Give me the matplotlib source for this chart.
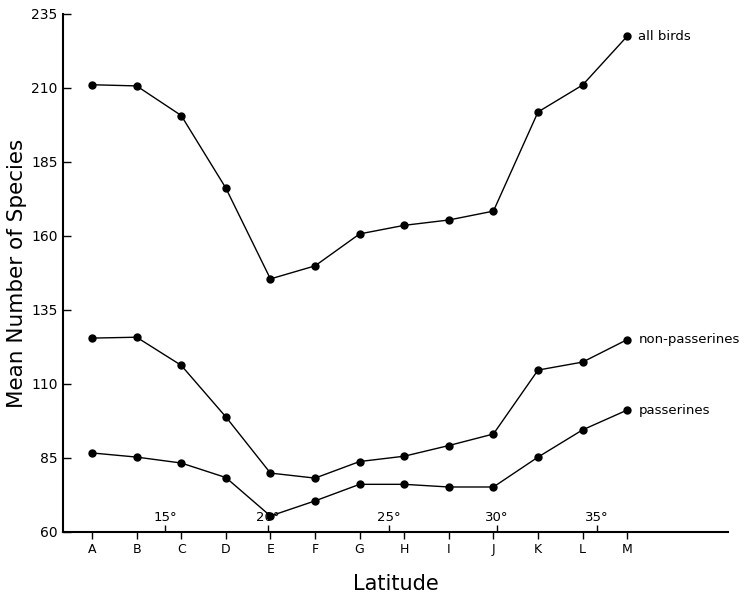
import matplotlib
matplotlib.use("Agg")
import matplotlib.pyplot as plt

plt.rcParams['font.family'] = ['DejaVu Sans']

# latitude bands
bands = ['A', 'B', 'C', 'D', 'E', 'F', 'G', 'H', 'I', 'J', 'K', 'L', 'M']
band_pos = list(range(len(bands)))

# degree marks (position on the band scale) and their labels
deg_pos = [1.64, 3.95, 6.66, 9.08, 11.32]
deg_labels = ['15°', '20°', '25°', '30°', '35°']

# mean number of species per band
all_birds = [211.1, 210.7, 200.7, 176.2, 145.5, 149.9, 160.7, 163.6, 165.4, 168.4, 201.9, 211.0, 227.5]
non_passerines = [125.5, 125.8, 116.3, 98.9, 79.9, 78.2, 83.8, 85.6, 89.2, 93.1, 114.7, 117.4, 125.0]
passerines = [86.7, 85.3, 83.3, 78.4, 65.4, 70.5, 76.1, 76.1, 75.2, 75.2, 85.3, 94.5, 101.2]

series = [(all_birds, 'all birds'),
          (non_passerines, 'non-passerines'),
          (passerines, 'passerines')]

fig = plt.figure(figsize=(7.45, 5.98), dpi=100)
ax = fig.add_axes([0.0846, 0.1104, 0.8926, 0.8662])

for vals, name in series:
    ax.plot(band_pos, vals, color='black', lw=1.0, marker='o', ms=5)
    ax.annotate(name, (band_pos[-1], vals[-1]), xytext=(8, 0),
                textcoords='offset points', va='center', ha='left',
                fontsize=9.5)

ax.set_xlim(-0.65, 14.26)
ax.set_ylim(60, 235)
ax.set_yticks([60, 85, 110, 135, 160, 185, 210, 235])

ax.set_xticks(band_pos)
ax.set_xticklabels(bands)
ax.set_xticks(deg_pos, minor=True)
ax.set_xticklabels(deg_labels, minor=True)

ax.tick_params(axis='y', direction='in', length=6, width=1, labelsize=10, pad=4)
ax.tick_params(axis='x', which='major', direction='out', length=5, width=1,
               labelsize=9, pad=3)
ax.tick_params(axis='x', which='minor', direction='in', length=5, width=1,
               labelsize=9.5, pad=-15)

for s in ['top', 'right']:
    ax.spines[s].set_visible(False)
for s in ['left', 'bottom']:
    ax.spines[s].set_linewidth(1.5)

ax.set_xlabel('Latitude', fontsize=15, labelpad=13)
ax.set_ylabel('Mean Number of Species', fontsize=15.5, labelpad=3)

fig.savefig('out.png', dpi=100)
